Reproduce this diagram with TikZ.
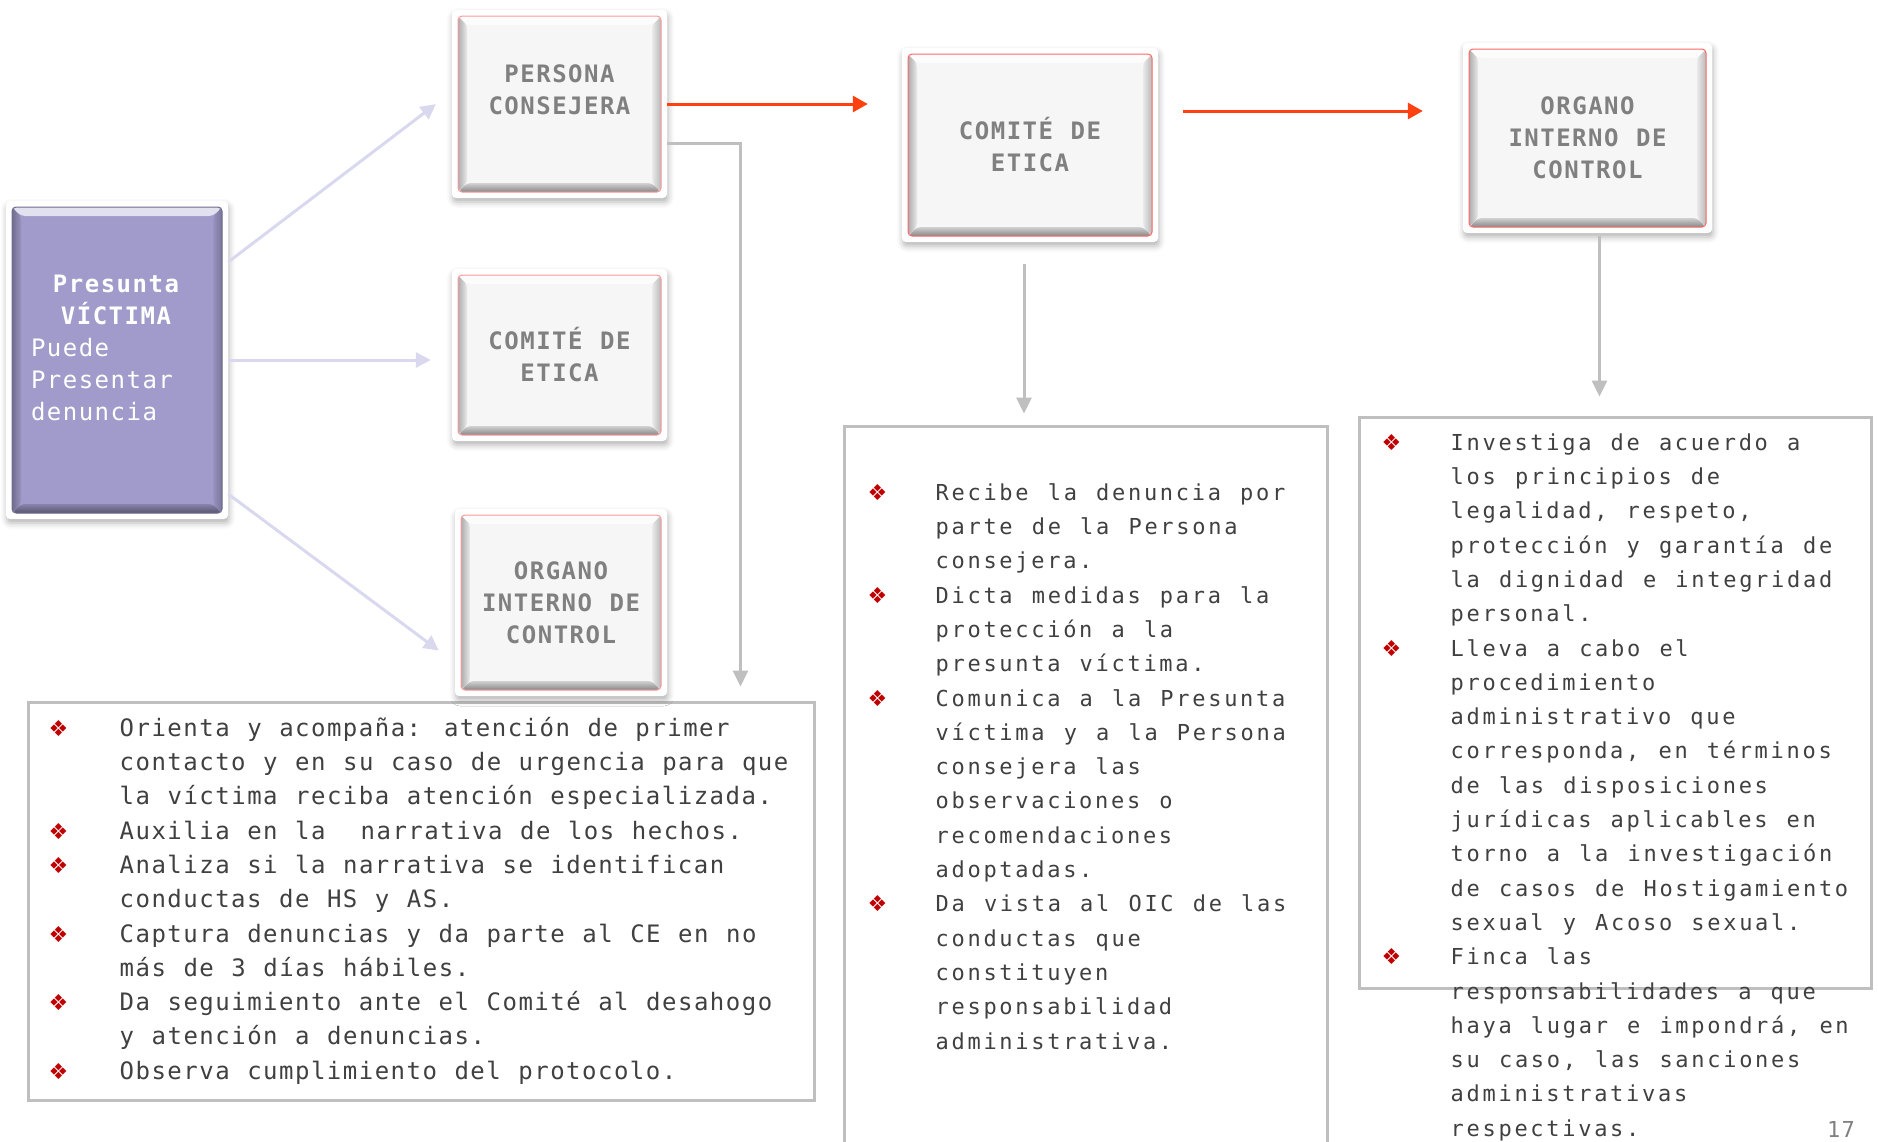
\documentclass[tikz,border=0pt]{standalone}
\usepackage{fontspec}
\usepackage{array}
\setmainfont{DejaVu Sans Mono}
\newfontfamily\fuentemono[LetterSpace=6.2,WordSpace=1.1]{DejaVu Sans Mono}
\newfontfamily\fuenteancha[LetterSpace=12.3,WordSpace=1.2]{DejaVu Sans Mono}
\newfontfamily\fuentesimbolo{DejaVu Sans}
\usetikzlibrary{positioning,arrows.meta,shadows.blur}

\definecolor{morado}{RGB}{160,155,202}
\definecolor{grisface}{RGB}{246,246,246}
\definecolor{lila}{RGB}{218,216,238}
\definecolor{rojoflecha}{RGB}{255,64,16}
\definecolor{grisflecha}{RGB}{191,191,191}
\definecolor{grisletra}{RGB}{128,128,128}
\definecolor{textolista}{RGB}{64,64,64}
\definecolor{vineta}{RGB}{192,0,0}

\newcommand{\vin}{{\fuentesimbolo\fontsize{22}{22}\selectfont\color{vineta}\symbol{"2756}}}

\begin{document}
\begin{tikzpicture}[x=1pt,y=-1pt,
    tecla/.style 2 args={rectangle, rounded corners=4pt, fill=white, inner sep=0pt,
      align=center, text=grisletra, font=\fuentemono\bfseries\fontsize{24}{32}\selectfont,
      blur shadow={shadow xshift=1pt, shadow yshift=-4pt, shadow blur radius=6pt, shadow opacity=30},
      path picture={
        \coordinate (sw) at ([shift={(6pt,6pt)}]path picture bounding box.south west);
        \coordinate (ne) at ([shift={(-6pt,-6pt)}]path picture bounding box.north east);
        \fill[#1] (sw) rectangle (ne);
        % bisel
        \shade[top color=#1!85!black, bottom color=#1!55!black] (sw) -- (sw -| ne) -- ++(-9pt,9pt) -- ([shift={(9pt,9pt)}]sw) -- cycle;
        \shade[left color=#1!70!black, right color=#1!95!black] (sw) -- (sw |- ne) -- ++(9pt,-9pt) -- ([shift={(9pt,9pt)}]sw) -- cycle;
        \shade[left color=#1!95!black, right color=#1!75!black] (sw -| ne) -- (ne) -- ++(-9pt,-9pt) -- ([shift={(-9pt,9pt)}]sw -| ne) -- cycle;
        \fill[#1!30!white] (sw |- ne) -- (ne) -- ++(-9pt,-9pt) -- ([shift={(9pt,-9pt)}]sw |- ne) -- cycle;
        \draw[#2, line width=1pt] (sw) rectangle (ne);
      }},
    cajatexto/.style={rectangle, draw=grisflecha, line width=3pt, fill=white, inner sep=0pt},
    lista/.style={inner sep=0pt, text=textolista, font=\fuentemono\fontsize{24}{34.3}\selectfont},
    listaancha/.style={lista, font=\fuenteancha\fontsize{22}{34.3}\selectfont},
    flechalila/.style={draw=lila, line width=3pt, -{Triangle[length=15pt,width=15pt]}},
    flecharoja/.style={draw=rojoflecha, line width=3pt, -{Triangle[length=15pt,width=16pt]}},
    flechagris/.style={draw=grisflecha, line width=3pt, -{Triangle[length=16pt,width=15pt]}}]

  \useasboundingbox (0,0) rectangle (1878,1141);
  \clip (0,0) rectangle (1878,1141);

  % cajas de texto
  \node[cajatexto, minimum width=786pt, minimum height=398pt] (cajapc) at (421,901) {};
  \node[cajatexto, minimum width=483pt, minimum height=730pt] (cajace) at (1085.5,791) {};
  \node[cajatexto, minimum width=512pt, minimum height=571pt] (cajaoic) at (1615,702.5) {};

  % teclas
  \node[tecla={morado}{morado!70!black}, minimum width=222pt, minimum height=318pt,
        text=white, font=\fuentemono\fontsize{24}{32}\selectfont, text width=172pt,
        align=left, text height=20pt, text depth=156pt] (victima) at (117,360)
        {\makebox[170pt][c]{\bfseries Presunta}\\ \makebox[170pt][c]{\bfseries VÍCTIMA}\\ Puede\\ Presentar\\ denuncia};
  \node[tecla={grisface}{red!40}, minimum width=215pt, minimum height=188pt, text depth=28pt] (persona) at (559.5,104) {PERSONA\\CONSEJERA};
  \node[tecla={grisface}{red!40}, minimum width=215pt, minimum height=172pt] (comiteb) at (559.5,355) {COMITÉ DE\\ETICA};
  \node[tecla={grisface}{red!40}, minimum width=212pt, minimum height=187pt] (oicb) at (561,602.5) {ORGANO\\INTERNO DE\\CONTROL};
  \node[tecla={grisface}{red!60}, minimum width=256pt, minimum height=194pt] (comite) at (1030,145) {COMITÉ DE\\ETICA};
  \node[tecla={grisface}{red!60}, minimum width=249pt, minimum height=190pt] (oic) at (1587.5,138) {ORGANO\\INTERNO DE\\CONTROL};

  % listas
  \node[lista, below right=11.5pt and 22pt of cajapc.north west] (listapc) {\begin{tabular}{@{}w{l}{71pt}@{}l@{}}
    \vin & Orienta y acompaña: atención de primer\\
         & contacto y en su caso de urgencia para que\\
         & la víctima reciba atención especializada.\\
    \vin & Auxilia en la\ \ narrativa de los hechos.\\
    \vin & Analiza si la narrativa se identifican\\
         & conductas de HS y AS.\\
    \vin & Captura denuncias y da parte al CE en no\\
         & más de 3 días hábiles.\\
    \vin & Da seguimiento ante el Comité al desahogo\\
         & y atención a denuncias.\\
    \vin & Observa cumplimiento del protocolo.
  \end{tabular}};
  \node[listaancha, below right=51.5pt and 25pt of cajace.north west] (listace) {\begin{tabular}{@{}w{l}{68pt}@{}l@{}}
    \vin & Recibe la denuncia por\\
         & parte de la Persona\\
         & consejera.\\
    \vin & Dicta medidas para la\\
         & protección a la\\
         & presunta víctima.\\
    \vin & Comunica a la Presunta\\
         & víctima y a la Persona\\
         & consejera las\\
         & observaciones o\\
         & recomendaciones\\
         & adoptadas.\\
    \vin & Da vista al OIC de las\\
         & conductas que\\
         & constituyen\\
         & responsabilidad\\
         & administrativa.
  \end{tabular}};
  \node[listaancha, below right=10.5pt and 24pt of cajaoic.north west] (listaoic) {\begin{tabular}{@{}w{l}{69pt}@{}l@{}}
    \vin & Investiga de acuerdo a\\
         & los principios de\\
         & legalidad, respeto,\\
         & protección y garantía de\\
         & la dignidad e integridad\\
         & personal.\\
    \vin & Lleva a cabo el\\
         & procedimiento\\
         & administrativo que\\
         & corresponda, en términos\\
         & de las disposiciones\\
         & jurídicas aplicables en\\
         & torno a la investigación\\
         & de casos de Hostigamiento\\
         & sexual y Acoso sexual.\\
    \vin & Finca las\\
         & responsabilidades a que\\
         & haya lugar e impondrá, en\\
         & su caso, las sanciones\\
         & administrativas\\
         & respectivas.
  \end{tabular}};

  \node[text=grisletra, font=\fuentemono\fontsize{22}{22}\selectfont] (pagina) at (1841,1129) {17};

  % flechas
  \draw[flechalila, shorten >=20pt] ([yshift=98pt]victima.east) -- ([yshift=12pt]persona.west);
  \draw[flechalila, shorten >=21pt] (victima.east) -- (victima.east -| comiteb.west);
  \draw[flechalila, shorten >=20pt] ([yshift=-134pt]victima.east) -- ([yshift=-60pt]oicb.west);
  \draw[flecharoja, shorten >=34pt] (persona.east) -- (persona.east -| comite.west);
  \draw[flecharoja, shorten <=25pt, shorten >=40pt] ([yshift=34pt]comite.east) -- ([yshift=34pt]comite.east -| oic.west);
  \draw[flechagris, shorten >=14pt] ([yshift=-39pt]persona.east) -| ([xshift=-75pt]cajapc.north east);
  \draw[flechagris, shorten <=22pt, shorten >=11pt] ([xshift=-6pt]comite.south) -- ([xshift=-6pt]comite.south |- cajace.north);
  \draw[flechagris, shorten <=3pt, shorten >=19pt] ([xshift=12pt]oic.south) -- ([xshift=12pt]oic.south |- cajaoic.north);
\end{tikzpicture}
\end{document}
